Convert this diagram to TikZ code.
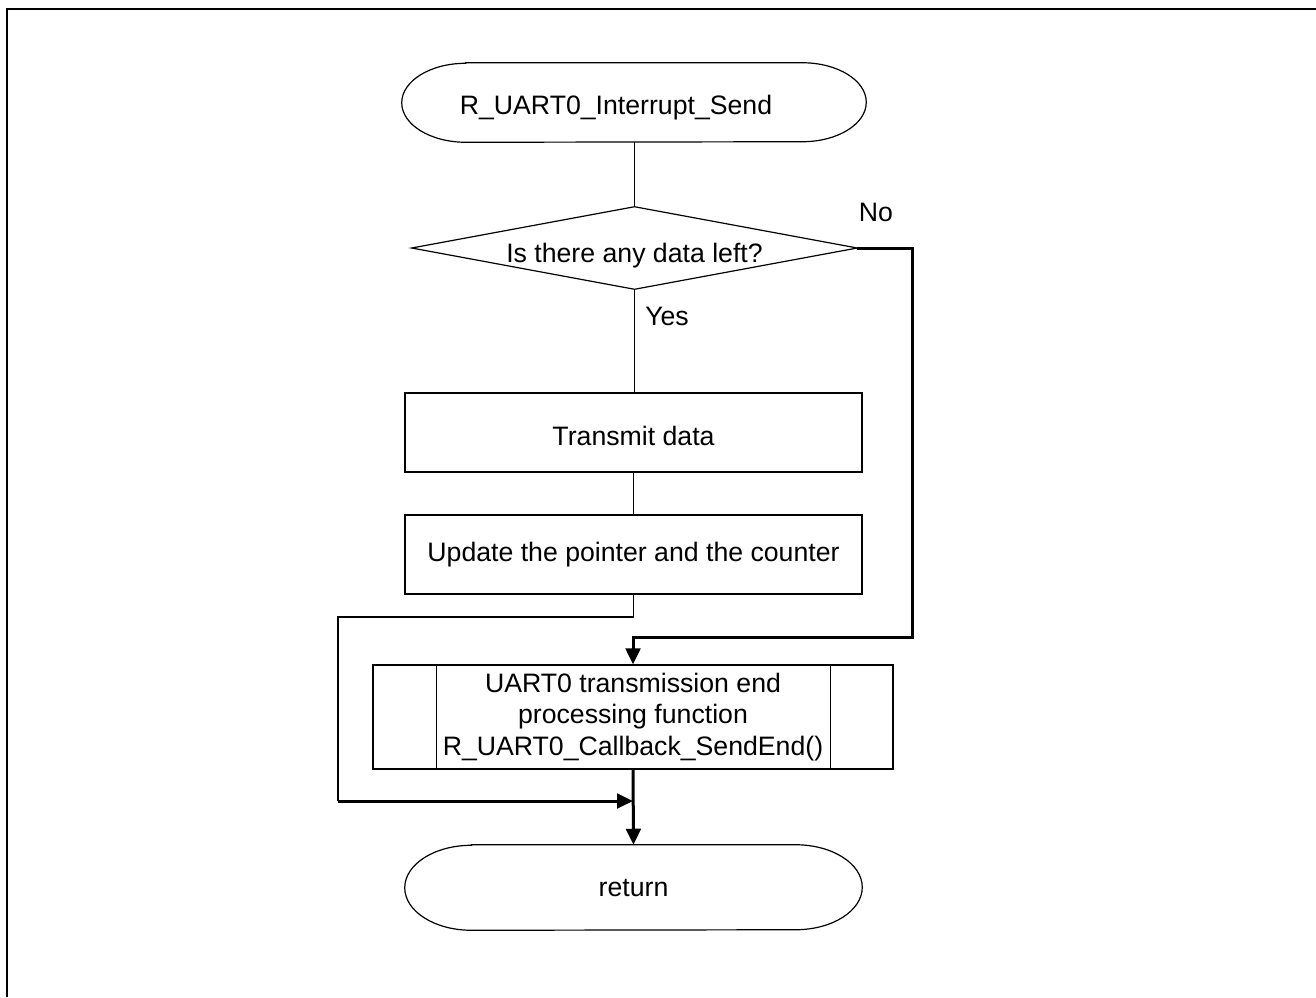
\documentclass[tikz,border=0pt]{standalone}
\usepackage{fontspec}
\setmainfont{Liberation Sans}
\usetikzlibrary{arrows.meta}
\newcommand{\lowtext}[2]{\raisebox{-#1}[0pt][0pt]{#2}}
\begin{document}
\begin{tikzpicture}[x=0.75pt,y=-0.75pt,
  base/.style={font=\fontsize{20}{23.5}\selectfont, align=center, inner sep=0pt},
  thinline/.style={line width=0.9pt},
  thickline/.style={line width=2.25pt},
  arr/.style={-{Triangle[length=12pt,width=11pt]}},
  procbox/.style={base, draw, thinline, minimum width=342.75pt, minimum height=59.25pt},
  predef/.style={base, draw, thinline, minimum width=390pt, minimum height=78pt},
  shapeonly/.style={base, draw=none},
  lbl/.style={base}
]
\useasboundingbox (0,0) rectangle (1316,997);
\draw[line width=1.6pt] (7,997) -- (7,9) -- (1316,9);

% start terminal
\node[shapeonly, minimum width=348pt, minimum height=59.25pt] (start) at (634,102.5) {\lowtext{9.25pt}{R\_UART0\_Interrupt\_Send}\hspace*{27pt}};
\draw[thinline] ([xshift=48pt]start.north west) -- ([xshift=-48pt]start.north east)
  arc[start angle=90, end angle=-90, x radius=48pt, y radius=29.625pt]
  -- ([xshift=48pt]start.south west)
  arc[start angle=270, end angle=90, x radius=48pt, y radius=29.625pt] -- cycle;

% decision
\node[shapeonly, minimum width=333.75pt, minimum height=61.5pt] (dec) at (634.5,248) {\lowtext{10.75pt}{Is there any data left?}};
\draw[thinline] (dec.north) -- (dec.east) -- (dec.south) -- (dec.west) -- cycle;
\node[lbl] (no) at (876,212) {No};
\node[lbl] (yes) at (667,316) {Yes};

% process boxes
\node[procbox] (tx) at (633.5,432.5) {\lowtext{10pt}{Transmit data}};
\node[procbox] (up) at (633.5,554.5) {Update the pointer and the counter};

% predefined process
\node[predef] (pre) at (633,717) {UART0 transmission end\\processing function\\R\_UART0\_Callback\_SendEnd()};
\draw[thinline] ([xshift=48pt]pre.north west) -- ([xshift=48pt]pre.south west);
\draw[thinline] ([xshift=-47.25pt]pre.north east) -- ([xshift=-47.25pt]pre.south east);

% return terminal
\node[shapeonly, minimum width=342.75pt, minimum height=63.75pt] (ret) at (633.5,887.5) {return};
\draw[thinline] ([xshift=50pt]ret.north west) -- ([xshift=-50pt]ret.north east)
  arc[start angle=90, end angle=-90, x radius=50pt, y radius=31.875pt]
  -- ([xshift=50pt]ret.south west)
  arc[start angle=270, end angle=90, x radius=50pt, y radius=31.875pt] -- cycle;

% connectors
\coordinate (nocorner) at (912,637);
\coordinate (ycorner) at (338,617);
\coordinate (yjoin) at (338,801);

\draw[thinline] (start.south -| dec.north) -- (dec.north);
\draw[thinline] (dec.south) -- (dec.south |- tx.north);
\draw[thinline] (tx.south) -- (up.north);
\draw[thickline, arr] (dec.east) -| (nocorner) -- (nocorner -| pre.north) -- (pre.north);
\draw[thinline] (up.south) |- (ycorner) -- (yjoin);
\draw[thickline, arr] (yjoin) -- (yjoin -| pre.south);
\draw[thickline, arr] (pre.south) -- (ret.north);
\end{tikzpicture}
\end{document}
